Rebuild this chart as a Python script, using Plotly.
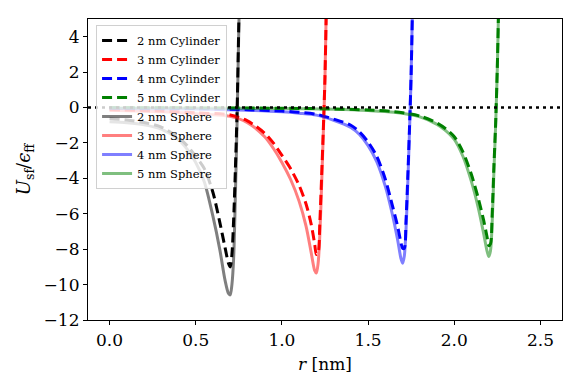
import plotly.graph_objects as go

# r values (nm) sampled along each pore-size curve
x_2nm = [0.0, 0.1, 0.2, 0.3, 0.4, 0.45, 0.5, 0.55, 0.6, 0.64, 0.67, 0.69, 0.70, 0.71, 0.72, 0.73, 0.74, 0.75, 0.76]
x_3nm = [0.0, 0.3, 0.5, 0.7, 0.8, 0.9, 0.95, 1.0, 1.05, 1.1, 1.14, 1.17, 1.19, 1.2, 1.21, 1.22, 1.23, 1.24, 1.25, 1.26]
x_4nm = [0.0, 0.5, 0.8, 1.0, 1.1, 1.2, 1.3, 1.4, 1.45, 1.5, 1.55, 1.6, 1.64, 1.67, 1.69, 1.7, 1.71, 1.72, 1.73, 1.74, 1.75, 1.76]
x_5nm = [0.0, 0.5, 1.0, 1.3, 1.5, 1.65, 1.8, 1.9, 1.95, 2.0, 2.05, 2.1, 2.14, 2.17, 2.19, 2.2, 2.21, 2.22, 2.23, 2.24, 2.25, 2.26]

# U_sf / eps_ff, cylinder pores
cyl_2nm = [-0.62, -0.7, -0.85, -1.1, -1.7, -2.15, -2.75, -3.45, -4.8, -6.5, -7.9, -8.8, -9.0, -8.3, -6.3, -3.5, -0.2, 4.8, 9.0]
cyl_3nm = [-0.12, -0.2, -0.3, -0.42, -0.75, -1.45, -2.0, -2.7, -3.45, -4.4, -5.45, -6.6, -7.7, -8.3, -8.2, -6.5, -4.0, -1.3, 1.8, 7.0]
cyl_4nm = [-0.03, -0.06, -0.12, -0.2, -0.27, -0.38, -0.65, -1.0, -1.38, -1.95, -2.75, -4.05, -5.5, -6.65, -7.6, -7.95, -7.95, -6.4, -4.0, -1.2, 2.0, 7.0]
cyl_5nm = [-0.01, -0.02, -0.04, -0.08, -0.14, -0.23, -0.48, -0.88, -1.2, -1.65, -2.5, -3.8, -5.15, -6.35, -7.3, -7.8, -7.7, -6.0, -3.3, -0.9, 2.4, 7.0]

# U_sf / eps_ff, spherical pores
sph_2nm = [-0.8, -0.86, -0.98, -1.22, -1.81, -2.35, -3.1, -4.2, -6.15, -8.04, -9.75, -10.5, -10.58, -10.0, -8.5, -5.0, -0.8, 4.5, 9.0]
sph_3nm = [-0.15, -0.24, -0.35, -0.5, -0.85, -1.65, -2.3, -3.1, -4.05, -5.3, -6.7, -8.2, -9.2, -9.35, -8.8, -7.2, -4.5, -1.5, 1.7, 7.0]
sph_4nm = [-0.05, -0.08, -0.15, -0.24, -0.32, -0.43, -0.72, -1.12, -1.52, -2.15, -3.05, -4.45, -6.0, -7.4, -8.5, -8.79, -8.4, -6.9, -4.4, -1.4, 1.9, 7.0]
sph_5nm = [-0.02, -0.03, -0.06, -0.1, -0.17, -0.27, -0.53, -0.95, -1.3, -1.8, -2.75, -4.2, -5.7, -7.1, -8.1, -8.41, -8.1, -6.5, -3.6, -1.0, 2.3, 7.0]

sizes = ["2 nm", "3 nm", "4 nm", "5 nm"]
xs = [x_2nm, x_3nm, x_4nm, x_5nm]
cyls = [cyl_2nm, cyl_3nm, cyl_4nm, cyl_5nm]
sphs = [sph_2nm, sph_3nm, sph_4nm, sph_5nm]
cyl_colors = ["black", "red", "blue", "green"]
sph_colors = ["rgba(0,0,0,0.5)", "rgba(255,0,0,0.5)", "rgba(0,0,255,0.5)", "rgba(0,128,0,0.5)"]

fig = go.Figure()
for size, x, y, c in zip(sizes, xs, cyls, cyl_colors):
    fig.add_trace(go.Scatter(x=x, y=y, mode="lines", name=size + " Cylinder",
                             line=dict(color=c, width=3, dash="10px,5px", shape="spline", smoothing=0.8)))
for size, x, y, c in zip(sizes, xs, sphs, sph_colors):
    fig.add_trace(go.Scatter(x=x, y=y, mode="lines", name=size + " Sphere",
                             line=dict(color=c, width=3, shape="spline", smoothing=0.8)))

fig.add_hline(y=0, line=dict(color="black", width=2.5, dash="3px,4px"))

font = "DejaVu Serif"
# page body has an 8px margin, so the figure is sized to fit the window
fig.update_layout(
    width=573, height=380,
    margin=dict(l=80, r=19, t=11, b=68),
    plot_bgcolor="white", paper_bgcolor="white",
    font=dict(family=font, size=17, color="black"),
    showlegend=True,
    legend=dict(x=0.017, y=0.98, xanchor="left", yanchor="top",
                bgcolor="rgba(255,255,255,0.8)", bordercolor="#d0d0d0", borderwidth=1,
                font=dict(family=font, size=11.5), itemwidth=30, tracegroupgap=0),
)
fig.update_xaxes(range=[-0.125, 2.625], tickvals=[0, 0.5, 1.0, 1.5, 2.0, 2.5], tickformat=".1f",
                 ticks="outside", ticklen=4, tickcolor="black", showgrid=False, zeroline=False,
                 showline=True, mirror=True, linecolor="black", linewidth=1.2, automargin=False,
                 tickfont=dict(family=font, size=17),
                 title=dict(text="<i>r</i> [nm]", font=dict(family=font, size=17), standoff=9))
fig.update_yaxes(range=[-12, 5], tickvals=list(range(-12, 5, 2)),
                 ticks="outside", ticklen=4, tickcolor="black", showgrid=False, zeroline=False,
                 showline=True, mirror=True, linecolor="black", linewidth=1.2, automargin=False,
                 tickfont=dict(family=font, size=17),
                 title=dict(text="<i>U</i><sub>sf</sub>/<i>ϵ</i><sub>ff</sub>",
                            font=dict(family=font, size=18), standoff=8))

fig.write_html("out.html")
